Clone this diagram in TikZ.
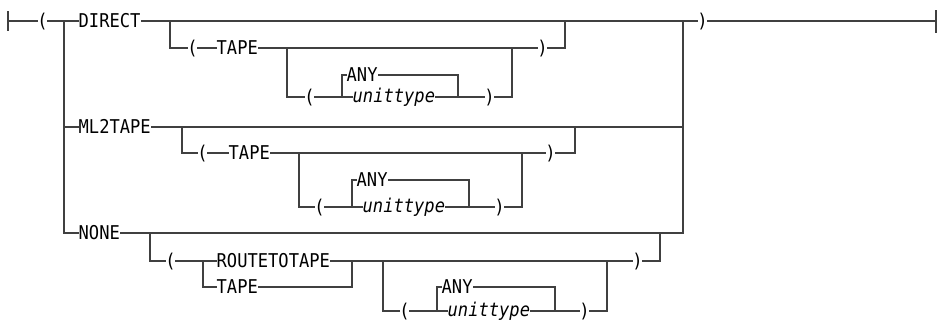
\documentclass[tikz,border=0pt]{standalone}
\usepackage{fontspec}
\newfontfamily\rrfont[FakeStretch=0.9]{DejaVu Sans Mono}
\newcommand\rrtaille{\rrfont\fontsize{19}{22}\selectfont}
\usepackage{tikz}

\tikzset{
  voie/.style={draw=black!75, line width=1.3pt, line cap=rect},
  mot/.style={anchor=west, inner xsep=0.5pt, inner ysep=0pt, text height=13.9pt, text depth=0pt},
  var/.style={mot, font=\rrtaille\itshape, text height=10.4pt},
  par/.style={inner sep=0pt, text height=13.9pt, text depth=0pt},
}

\begin{document}
\begin{tikzpicture}[x=1pt, y=-1pt, font=\rrtaille]
\useasboundingbox (0,0) rectangle (938,322);

% Tronc principal
\node[par] (ouvre) at (42.5,21) {(};
\node[mot] (direct) at (78,21) {DIRECT};
\node[mot] (ml2tape) at (78,127) {ML2TAPE};
\node[mot] (none) at (78,233) {NONE};
\node[par] (ferme) at (702.5,21) {)};
\coordinate (debut) at (8,21);
\coordinate (fin) at (936,21);
\coordinate (gauche) at (64,21);
\coordinate (droite) at (683,21);

\draw[voie, line cap=butt] ([yshift=10pt]debut) -- ([yshift=-10pt]debut);
\draw[voie] (debut) -- (ouvre.west);
\draw[voie] (ouvre.east) -- (gauche) -- (direct.west);
\draw[voie] (gauche) |- (none.west);
\draw[voie] (gauche |- ml2tape.west) -- (ml2tape.west);
\draw[voie] (direct.east) -- (droite) -- (ferme.west);
\draw[voie] (ml2tape.east) -- (droite |- ml2tape.east);
\draw[voie] (none.east) -| (droite);
\draw[voie] (ferme.east) -- (fin);
\draw[voie, line cap=butt] ([yshift=11pt]fin) -- ([yshift=-12pt]fin);

% Option DIRECT
\node[par] (ouvreA) at (192.5,48) {(};
\node[mot] (tapeA) at (216,48) {TAPE};
\node[par] (ouvreA2) at (309.5,97) {(};
\node[mot] (anyA) at (346,75) {ANY};
\node[var] (unitA) at (352,97) {unittype};
\node[par] (fermeA2) at (489.5,97) {)};
\node[par] (fermeA) at (542.5,48) {)};
\coordinate (jA1) at (170,21);
\coordinate (jA2) at (287,48);
\coordinate (gA) at (342,97);
\coordinate (dA) at (458,97);
\coordinate (jA3) at (512,48);
\coordinate (jA4) at (565,21);

\draw[voie] (jA1) |- (ouvreA.west);
\draw[voie] (ouvreA.east) -- (tapeA.west);
\draw[voie] (tapeA.east) -- (jA3) -- (fermeA.west);
\draw[voie] (fermeA.east) -| (jA4);
\draw[voie] (jA2) |- (ouvreA2.west);
\draw[voie] (ouvreA2.east) -- (gA) -- (unitA.west);
\draw[voie] (gA) |- (anyA.west);
\draw[voie] (anyA.east) -| (dA);
\draw[voie] (unitA.east) -- (dA) -- (fermeA2.west);
\draw[voie] (fermeA2.east) -| (jA3);

% Option ML2TAPE
\node[par] (ouvreB) at (202.5,153) {(};
\node[mot] (tapeB) at (228,153) {TAPE};
\node[par] (ouvreB2) at (319.5,207) {(};
\node[mot] (anyB) at (356,180) {ANY};
\node[var] (unitB) at (362,207) {unittype};
\node[par] (fermeB2) at (499.5,207) {)};
\node[par] (fermeB) at (550.5,153) {)};
\coordinate (jB1) at (182,127);
\coordinate (jB2) at (299,153);
\coordinate (gB) at (352,207);
\coordinate (dB) at (469,207);
\coordinate (jB3) at (522,153);
\coordinate (jB4) at (575,127);

\draw[voie] (jB1) |- (ouvreB.west);
\draw[voie] (ouvreB.east) -- (tapeB.west);
\draw[voie] (tapeB.east) -- (jB3) -- (fermeB.west);
\draw[voie] (fermeB.east) -| (jB4);
\draw[voie] (jB2) |- (ouvreB2.west);
\draw[voie] (ouvreB2.east) -- (gB) -- (unitB.west);
\draw[voie] (gB) |- (anyB.west);
\draw[voie] (anyB.east) -| (dB);
\draw[voie] (unitB.east) -- (dB) -- (fermeB2.west);
\draw[voie] (fermeB2.east) -| (jB3);

% Option NONE
\node[par] (ouvreC) at (170.5,261) {(};
\node[mot] (routeC) at (216,261) {ROUTETOTAPE};
\node[mot] (tapeC) at (216,287) {TAPE};
\node[par] (ouvreC2) at (404.5,311) {(};
\node[mot] (anyC) at (441,287) {ANY};
\node[var] (unitC) at (447,311) {unittype};
\node[par] (fermeC2) at (584.5,311) {)};
\node[par] (fermeC) at (637.5,261) {)};
\coordinate (jC1) at (150,233);
\coordinate (cC1) at (203,261);
\coordinate (cC2) at (352,261);
\coordinate (jC2) at (383,261);
\coordinate (gC) at (437,311);
\coordinate (dC) at (555,311);
\coordinate (jC3) at (607,261);
\coordinate (jC4) at (660,233);

\draw[voie] (jC1) |- (ouvreC.west);
\draw[voie] (ouvreC.east) -- (cC1) -- (routeC.west);
\draw[voie] (cC1) |- (tapeC.west);
\draw[voie] (tapeC.east) -| (cC2);
\draw[voie] (routeC.east) -- (jC3) -- (fermeC.west);
\draw[voie] (fermeC.east) -| (jC4);
\draw[voie] (jC2) |- (ouvreC2.west);
\draw[voie] (ouvreC2.east) -- (gC) -- (unitC.west);
\draw[voie] (gC) |- (anyC.west);
\draw[voie] (anyC.east) -| (dC);
\draw[voie] (unitC.east) -- (dC) -- (fermeC2.west);
\draw[voie] (fermeC2.east) -| (jC3);
\end{tikzpicture}
\end{document}
